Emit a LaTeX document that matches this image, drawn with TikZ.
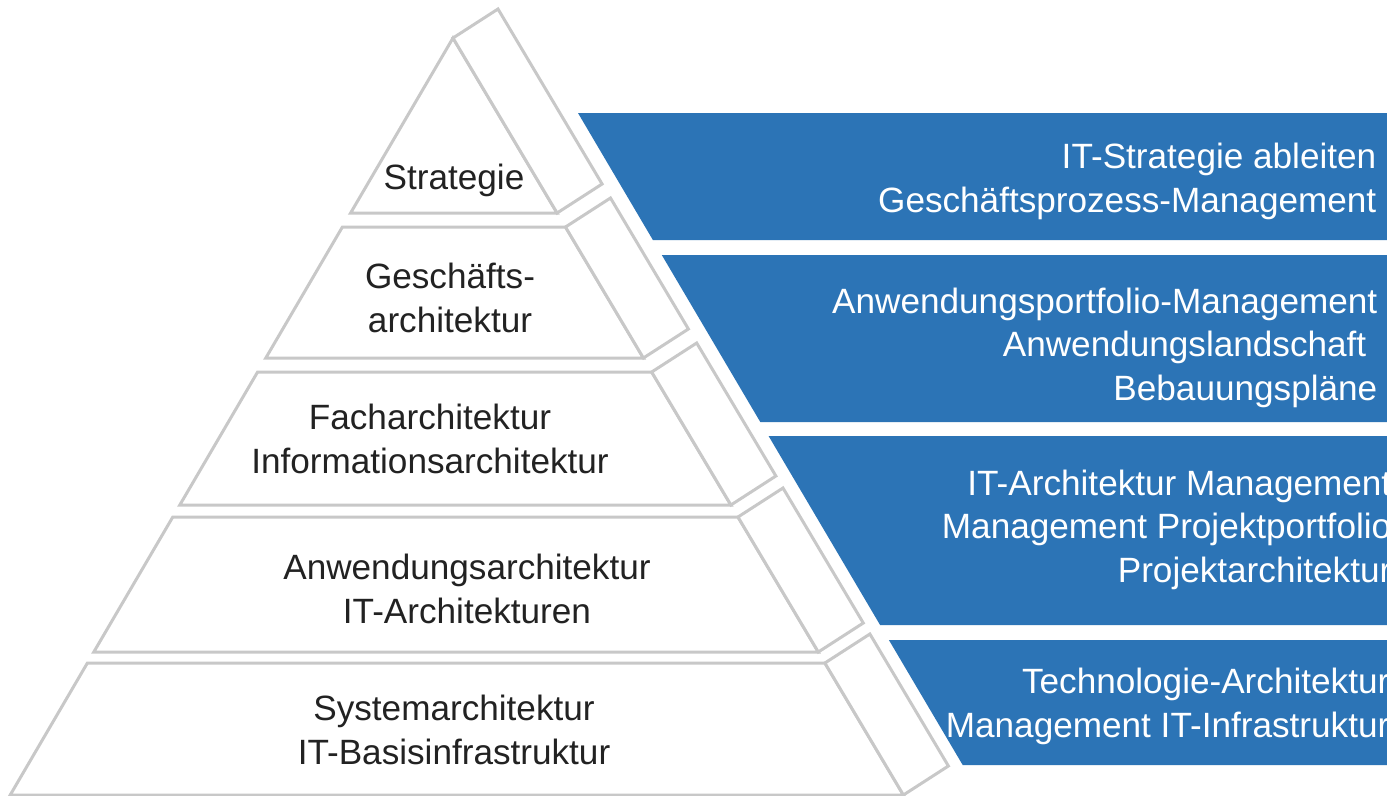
\documentclass[tikz,border=0pt]{standalone}
\usepackage{fontspec}
\setmainfont{Liberation Sans}
\definecolor{archblue}{RGB}{44,116,182}
\definecolor{archgray}{RGB}{200,200,200}
\definecolor{archtext}{RGB}{34,34,34}
\tikzset{
  layer/.style={draw=archgray, line width=0.85pt, fill=white},
  panel/.style={fill=archblue},
  pyrlabel/.style={text=archtext, align=center, anchor=base, inner sep=0pt, font=\fontsize{10}{12.3}\selectfont},
  panellabel/.style={text=white, align=right, anchor=base east, inner sep=0pt, font=\fontsize{10}{12.3}\selectfont}
}

\begin{document}
\begin{tikzpicture}
\useasboundingbox (0,0) rectangle (13.87,-7.96);
\clip (0,0) rectangle (13.87,-7.96);
\fill[white] (0,0) rectangle (13.87,-7.96);
\draw[layer] (4.53,-0.38) -- (5.571,-2.13) -- (3.506,-2.13) -- cycle;
\draw[layer] (4.53,-0.38) -- (4.98,-0.09) -- (6.021,-1.84) -- (5.571,-2.13) -- cycle;
\draw[layer] (3.424,-2.27) -- (5.655,-2.27) -- (6.434,-3.58) -- (2.658,-3.58) -- cycle;
\draw[layer] (5.655,-2.27) -- (6.105,-1.98) -- (6.884,-3.29) -- (6.434,-3.58) -- cycle;
\draw[layer] (2.576,-3.72) -- (6.517,-3.72) -- (7.309,-5.05) -- (1.798,-5.05) -- cycle;
\draw[layer] (6.517,-3.72) -- (6.967,-3.43) -- (7.759,-4.76) -- (7.309,-5.05) -- cycle;
\draw[layer] (1.728,-5.17) -- (7.380,-5.17) -- (8.183,-6.52) -- (0.938,-6.52) -- cycle;
\draw[layer] (7.380,-5.17) -- (7.830,-4.88) -- (8.633,-6.23) -- (8.183,-6.52) -- cycle;
\draw[layer] (0.874,-6.63) -- (8.249,-6.63) -- (9.034,-7.95) -- (0.102,-7.95) -- cycle;
\draw[layer] (8.249,-6.63) -- (8.699,-6.34) -- (9.484,-7.66) -- (9.034,-7.95) -- cycle;
\fill[panel] (5.78,-1.13) -- (14.2,-1.13) -- (14.2,-2.40) -- (6.529,-2.40) -- cycle;
\fill[panel] (6.618,-2.55) -- (14.2,-2.55) -- (14.2,-4.22) -- (7.603,-4.22) -- cycle;
\fill[panel] (7.686,-4.36) -- (14.2,-4.36) -- (14.2,-6.25) -- (8.801,-6.25) -- cycle;
\fill[panel] (8.889,-6.40) -- (14.2,-6.40) -- (14.2,-7.65) -- (9.627,-7.65) -- cycle;
\node[pyrlabel] (strat) at (4.54,-1.89) {Strategie};
\node[pyrlabel] (gesch) at (4.50,-3.32) {Geschäfts-\\architektur};
\node[pyrlabel] (fach) at (4.30,-4.73) {Facharchitektur\\Informationsarchitektur};
\node[pyrlabel] (anw) at (4.67,-6.23) {Anwendungsarchitektur\\IT-Architekturen};
\node[pyrlabel] (sys) at (4.54,-7.64) {Systemarchitektur\\IT-Basisinfrastruktur};
\node[panellabel] (p1) at (13.77,-2.12) {IT-Strategie ableiten\\Geschäftsprozess-Management};
\node[panellabel] (p2) at (13.78,-4.00) {Anwendungsportfolio-Management\\Anwendungslandschaft\hspace{0.11cm}\mbox{}\\Bebauungspläne};
\node[panellabel] (p3) at (13.92,-5.82) {IT-Architektur Management\\Management Projektportfolio\\Projektarchitektur};
\node[panellabel] (p4) at (13.90,-7.37) {Technologie-Architektur\\Management IT-Infrastruktur};
\end{tikzpicture}
\end{document}
